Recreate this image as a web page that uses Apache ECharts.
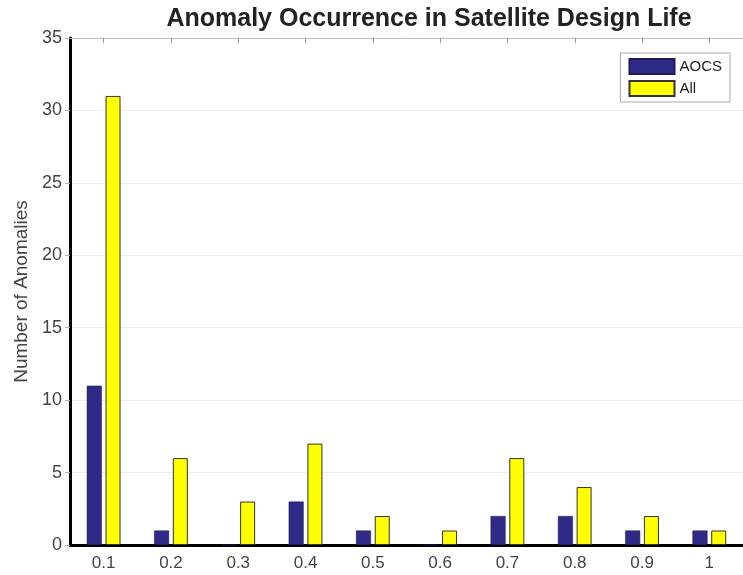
<!DOCTYPE html>
<html><head><meta charset="utf-8">
<script src="https://cdn.jsdelivr.net/npm/echarts@6/dist/echarts.min.js"></script>
<style>html,body{margin:0;padding:0;background:#fff}#c{width:743px;height:575px}</style>
</head><body><div id="c"></div>
<script>
const categories = ['0.1','0.2','0.3','0.4','0.5','0.6','0.7','0.8','0.9','1'];
const aocs = [11,1,0,3,1,0,2,2,1,1];
const all = [31,6,3,7,2,1,6,4,2,1];
const yTicks = [0,5,10,15,20,25,30,35];

const chart = echarts.init(document.getElementById('c'));
const font = 'Liberation Sans, Arial, sans-serif';
chart.setOption({
  animation:false,
  title:{text:'Anomaly Occurrence in Satellite Design Life',left:424,textAlign:'center',top:2,
    textStyle:{fontFamily:font,fontSize:25,fontWeight:'bold',color:'#222'}},
  grid:{left:70,top:38,width:675,bottom:30,containLabel:false},
  legend:{right:13,top:53,orient:'vertical',itemWidth:45,itemHeight:15,itemGap:5,icon:'rect',
    backgroundColor:'#fff',borderColor:'#aaa',borderWidth:1,padding:[5,8,5,8],
    textStyle:{fontFamily:font,fontSize:15,color:'#222'},
    data:['AOCS','All']},
  xAxis:[{type:'category',data:categories,position:'bottom',
    axisLine:{lineStyle:{color:'#000',width:3}},axisTick:{show:false},
    axisLabel:{fontFamily:font,fontSize:17,color:'#444',margin:10}},
   {type:'category',data:categories,position:'top',
    axisLine:{lineStyle:{color:'#bbb',width:1}},axisTick:{show:true,inside:true,alignWithLabel:true,length:5,lineStyle:{color:'#999'}},
    axisLabel:{show:false}}],
  yAxis:{type:'value',min:0,max:35,interval:5,
    name:'Number of Anomalies',nameLocation:'middle',nameGap:33,nameRotate:90,
    nameTextStyle:{fontFamily:font,fontSize:19,color:'#444'},
    axisLine:{show:true,lineStyle:{color:'#000',width:3}},
    axisTick:{show:true,length:5,lineStyle:{color:'#aaa'}},
    axisLabel:{fontFamily:font,fontSize:18,color:'#444',margin:8,
      formatter:v=>yTicks.includes(v)?String(v):''},
    splitLine:{lineStyle:{color:'#ececec',width:1}}},
  series:[
    {name:'AOCS',type:'bar',data:aocs,barWidth:15,barGap:'25%',
      itemStyle:{color:'#2e2a86',borderColor:'#1e1a60',borderWidth:0.5}},
    {name:'All',type:'bar',data:all,barWidth:15,
      itemStyle:{color:'#ffff00',borderColor:'#333',borderWidth:1}}
  ]
});
</script></body></html>
